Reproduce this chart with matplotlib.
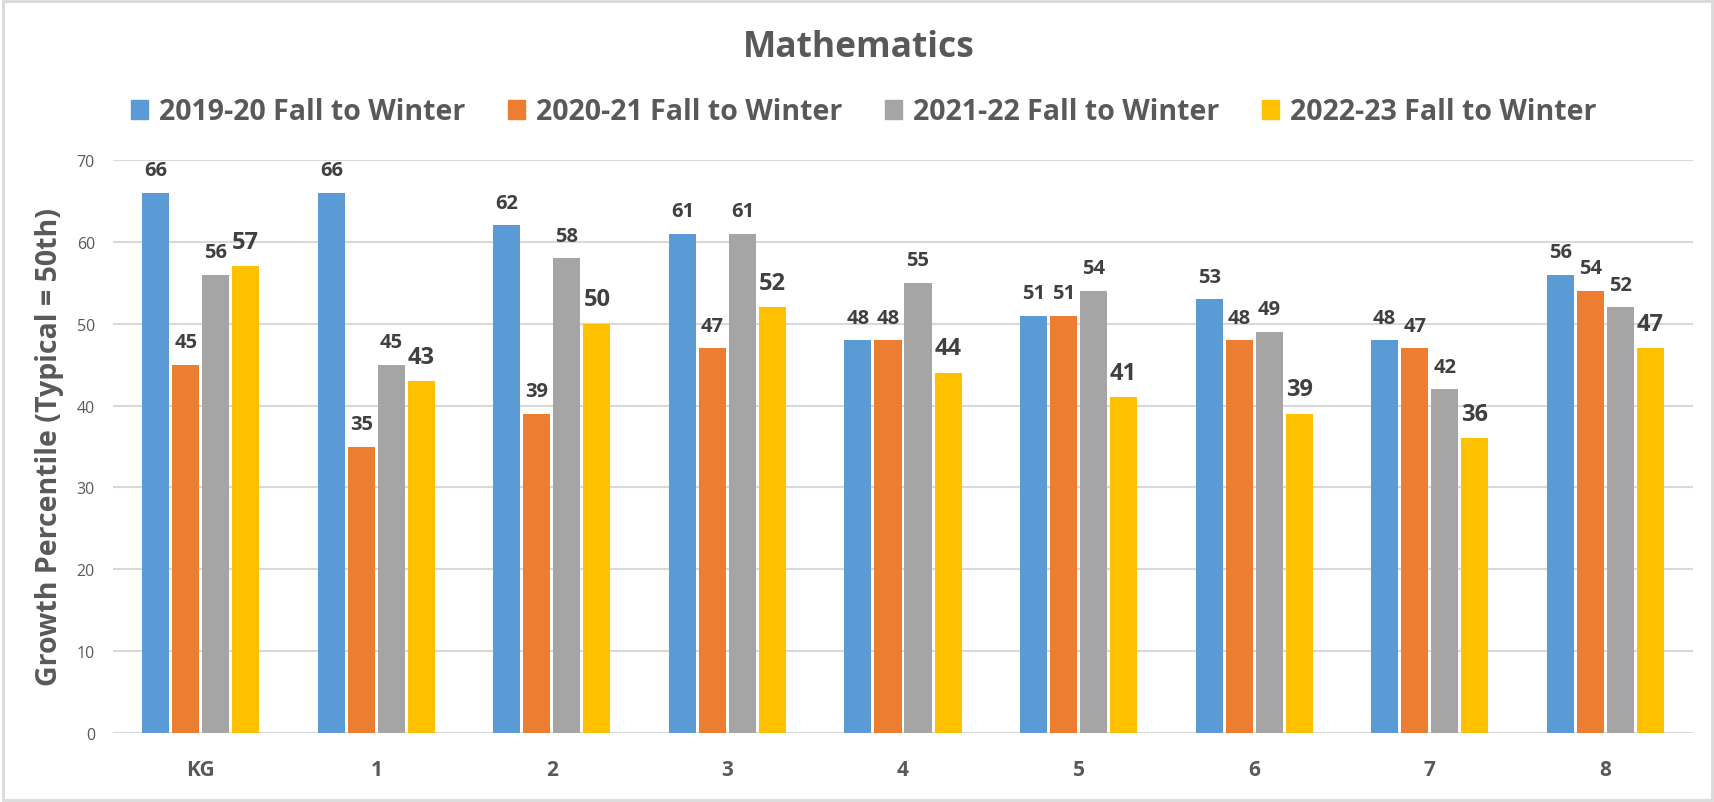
import numpy as np
import matplotlib.pyplot as plt
from matplotlib.patches import Patch

# data
grades = ["KG", "1", "2", "3", "4", "5", "6", "7", "8"]
series_names = ["2019-20 Fall to Winter", "2020-21 Fall to Winter",
                "2021-22 Fall to Winter", "2022-23 Fall to Winter"]
y2019 = [66, 66, 62, 61, 48, 51, 53, 48, 56]
y2020 = [45, 35, 39, 47, 48, 51, 48, 47, 54]
y2021 = [56, 45, 58, 61, 55, 54, 49, 42, 52]
y2022 = [57, 43, 50, 52, 44, 41, 39, 36, 47]
colors = ["#5B9BD5", "#ED7D31", "#A5A5A5", "#FFC000"]

plt.rcParams['font.family'] = ['Open Sans', 'DejaVu Sans']

fig = plt.figure(figsize=(17.15, 8.03), dpi=100)
ax = fig.add_axes([113 / 1715, 1 - 734 / 803, (1693 - 113) / 1715, (734 - 161) / 803])

x = np.arange(len(grades))
width = 0.154
step = 0.171
all_series = [y2019, y2020, y2021, y2022]

for i, vals in enumerate(all_series):
    pos = x + (i - 1.5) * step
    bars = ax.bar(pos, vals, width, color=colors[i], zorder=3)
    big = i == 3
    ax.bar_label(bars, labels=[str(v) for v in vals], padding=9,
                 fontsize=17 if big else 14.5, fontweight='bold',
                 color='#404040')

ax.set_xlim(-0.5, len(grades) - 0.5)
ax.set_ylim(0, 70)
ax.set_yticks(range(0, 71, 10))
ax.set_xticks(x)
ax.set_xticklabels(grades, fontsize=15, fontweight='bold', color='#595959')
ax.tick_params(axis='y', labelsize=11.5, colors='#595959', length=0, pad=13)
ax.tick_params(axis='x', length=0, pad=19)
ax.yaxis.grid(True, color='#D9D9D9', linewidth=1.5, zorder=0)
for s in ax.spines.values():
    s.set_visible(False)

fig.text(50 / 1715, 1 - 447 / 803, "Growth Percentile (Typical = 50th)", rotation=90,
         ha='center', va='center', fontsize=20.5, fontweight='bold', color='#595959')

fig.text(859 / 1715, 1 - 48 / 803, "Mathematics", ha='center', va='center',
         fontsize=25.5, fontweight='bold', color='#595959')

handles = [Patch(color=c) for c in colors]
fig.legend(handles, series_names, loc='center', bbox_to_anchor=(864 / 1715, 1 - 113 / 803),
           ncol=4, frameon=False, handlelength=0.6, handleheight=0.6, handletextpad=0.38,
           columnspacing=1.5, prop={'size': 20.5, 'weight': 'bold'}, labelcolor='#595959')

# light frame around the chart
fig.patches.append(plt.Rectangle((0.002, 0.003), 0.996, 0.994, transform=fig.transFigure,
                                 fill=False, edgecolor='#D9D9D9', linewidth=2))

fig.savefig("out.png", dpi=100)
